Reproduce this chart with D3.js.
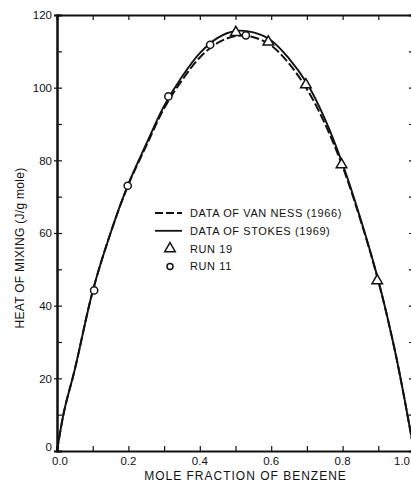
<!DOCTYPE html>
<html>
<head>
<meta charset="utf-8">
<script src="https://cdn.jsdelivr.net/npm/d3@7"></script>
<style>
  html, body { margin: 0; padding: 0; background: #fff; }
  svg { display: block; }
  text { font-family: "Liberation Sans", Arial, sans-serif; fill: #111; }
</style>
</head>
<body>
<svg id="chart" width="411" height="481"></svg>
<script>
// ---- data ----
const stokesX = [0, 0.02, 0.05, 0.1, 0.15, 0.2, 0.25, 0.3, 0.35, 0.4, 0.45, 0.5, 0.55, 0.6, 0.65, 0.7, 0.75, 0.8, 0.85, 0.9, 0.95, 1.0];
const stokesY = [0, 11, 22.5, 44, 60, 73.5, 84.5, 95, 103, 109.5, 113.7, 115.6, 115.2, 113, 108, 101.2, 91.5, 79, 64, 47, 26, 0];
const vanNessX = [0, 0.02, 0.05, 0.1, 0.15, 0.2, 0.25, 0.3, 0.35, 0.4, 0.45, 0.5, 0.55, 0.6, 0.65, 0.7, 0.75, 0.8, 0.85, 0.9, 0.95, 1.0];
const vanNessY = [0, 11, 22.5, 44, 60, 73.3, 84, 94.3, 102, 108.3, 112.3, 114.2, 113.9, 111.6, 106.6, 99.6, 90.2, 78.3, 63.6, 46.8, 26, 0];
const run19X = [0.501, 0.592, 0.697, 0.797, 0.897];
const run19Y = [115.2, 112.6, 100.8, 78.8, 46.9];
const run11X = [0.104, 0.198, 0.312, 0.429, 0.529];
const run11Y = [44.2, 73.0, 97.6, 111.8, 114.4];
const xTickLabels = ["0.0", "0.2", "0.4", "0.6", "0.8", "1.0"];
const yTickLabels = ["0", "20", "40", "60", "80", "100", "120"];
const legendLabels = ["DATA OF VAN NESS (1966)", "DATA OF STOKES (1969)", "RUN 19", "RUN 11"];

(function () {
// ---- layout ----
const svg = d3.select("#chart");
const mLeft = 57, mRight = 414, mTop = 15, mBottom = 451;
const x = d3.scaleLinear().domain([0, 1]).range([mLeft, mRight]);
const y = d3.scaleLinear().domain([0, 120]).range([mBottom, mTop]);

const xMinor = d3.range(0, 11).map(i => i / 10);
const yMinor = d3.range(0, 13).map(i => i * 10);

const gB = svg.append("g").attr("transform", `translate(0,${mBottom})`)
  .call(d3.axisBottom(x).tickValues(xMinor).tickSize(-5).tickFormat(""));
const gT = svg.append("g").attr("transform", `translate(0,${mTop})`)
  .call(d3.axisTop(x).tickValues(xMinor).tickSize(-5).tickFormat(""));
const gL = svg.append("g").attr("transform", `translate(${mLeft},0)`)
  .call(d3.axisLeft(y).tickValues(yMinor).tickSize(-5).tickFormat(""));
const gR = svg.append("g").attr("transform", `translate(${mRight},0)`)
  .call(d3.axisRight(y).tickValues(yMinor).tickSize(-5).tickFormat(""));
const gL2 = svg.append("g").attr("transform", `translate(${mLeft},0)`)
  .call(d3.axisLeft(y).tickValues(yTickLabels.map(Number)).tickSize(3)
    .tickPadding(2).tickFormat((d, i) => yTickLabels[i]));

[gB, gT, gL, gR, gL2].forEach(g => {
  g.selectAll(".domain").attr("stroke", "#111").attr("stroke-width", 2);
  g.selectAll(".tick line").attr("stroke", "#111").attr("stroke-width", 1.2);
});
gL2.selectAll(".tick text").attr("font-size", 11.5).attr("fill", "#111")
  .attr("font-family", "Liberation Sans, Arial, sans-serif");
gL2.selectAll(".tick").filter(d => d === 0).select("text").attr("dy", "-0.05em");

const nX = xTickLabels.length;
svg.append("g").selectAll("text").data(xTickLabels).join("text")
  .attr("x", (d, i) => i === nX - 1 ? 410 : x(i * 0.2) + (i === 0 ? 3 : 0))
  .attr("y", mBottom + 14)
  .attr("text-anchor", (d, i) => i === nX - 1 ? "end" : "middle")
  .attr("font-size", 11.5)
  .text(d => d);

svg.append("text")
  .attr("transform", `translate(24,${(mTop + mBottom) / 2 + 15}) rotate(-90)`)
  .attr("text-anchor", "middle")
  .attr("font-size", 12)
  .attr("letter-spacing", 0.3)
  .text("HEAT OF MIXING  (J/g mole)");
svg.append("text")
  .attr("x", (mLeft + mRight) / 2 + 10)
  .attr("y", 479.5)
  .attr("text-anchor", "middle")
  .attr("font-size", 12)
  .attr("letter-spacing", 1)
  .text("MOLE FRACTION OF BENZENE");

const line = d3.line().x(d => x(d[0])).y(d => y(d[1])).curve(d3.curveCatmullRom.alpha(0.5));
const plot = svg.append("g");
plot.append("path")
  .datum(vanNessX.map((v, i) => [v, vanNessY[i]]))
  .attr("d", line).attr("fill", "none").attr("stroke", "#111")
  .attr("stroke-width", 2).attr("stroke-dasharray", "9,3");
plot.append("path")
  .datum(stokesX.map((v, i) => [v, stokesY[i]]))
  .attr("d", line).attr("fill", "none").attr("stroke", "#111")
  .attr("stroke-width", 1.9);

const tri = d3.symbol().type(d3.symbolTriangle).size(48);
plot.selectAll(".r19").data(run19X.map((v, i) => [v, run19Y[i]])).join("path")
  .attr("transform", d => `translate(${x(d[0])},${y(d[1])})`)
  .attr("d", tri).attr("fill", "#fff").attr("stroke", "#111").attr("stroke-width", 1.5);
plot.selectAll(".r11").data(run11X.map((v, i) => [v, run11Y[i]])).join("circle")
  .attr("cx", d => x(d[0])).attr("cy", d => y(d[1])).attr("r", 3.6)
  .attr("fill", "#fff").attr("stroke", "#111").attr("stroke-width", 1.5);

const lx = 155, ly = 213, gap = 17.8;
const leg = svg.append("g");
leg.append("line").attr("x1", lx).attr("x2", lx + 27).attr("y1", ly).attr("y2", ly)
  .attr("stroke", "#111").attr("stroke-width", 2).attr("stroke-dasharray", "8,3");
leg.append("line").attr("x1", lx).attr("x2", lx + 27).attr("y1", ly + gap).attr("y2", ly + gap)
  .attr("stroke", "#111").attr("stroke-width", 1.8);
leg.append("path").attr("transform", `translate(${lx + 15},${ly + 2 * gap})`)
  .attr("d", tri).attr("fill", "#fff").attr("stroke", "#111").attr("stroke-width", 1.5);
leg.append("circle").attr("cx", lx + 15).attr("cy", ly + 3 * gap).attr("r", 3)
  .attr("fill", "#fff").attr("stroke", "#111").attr("stroke-width", 1.5);
leg.selectAll("text.l").data(legendLabels).join("text")
  .attr("x", lx + 35).attr("y", (d, i) => ly + i * gap + 4)
  .attr("font-size", 11).attr("letter-spacing", 0.6)
  .text(d => d);
})();
</script>
</body>
</html>
